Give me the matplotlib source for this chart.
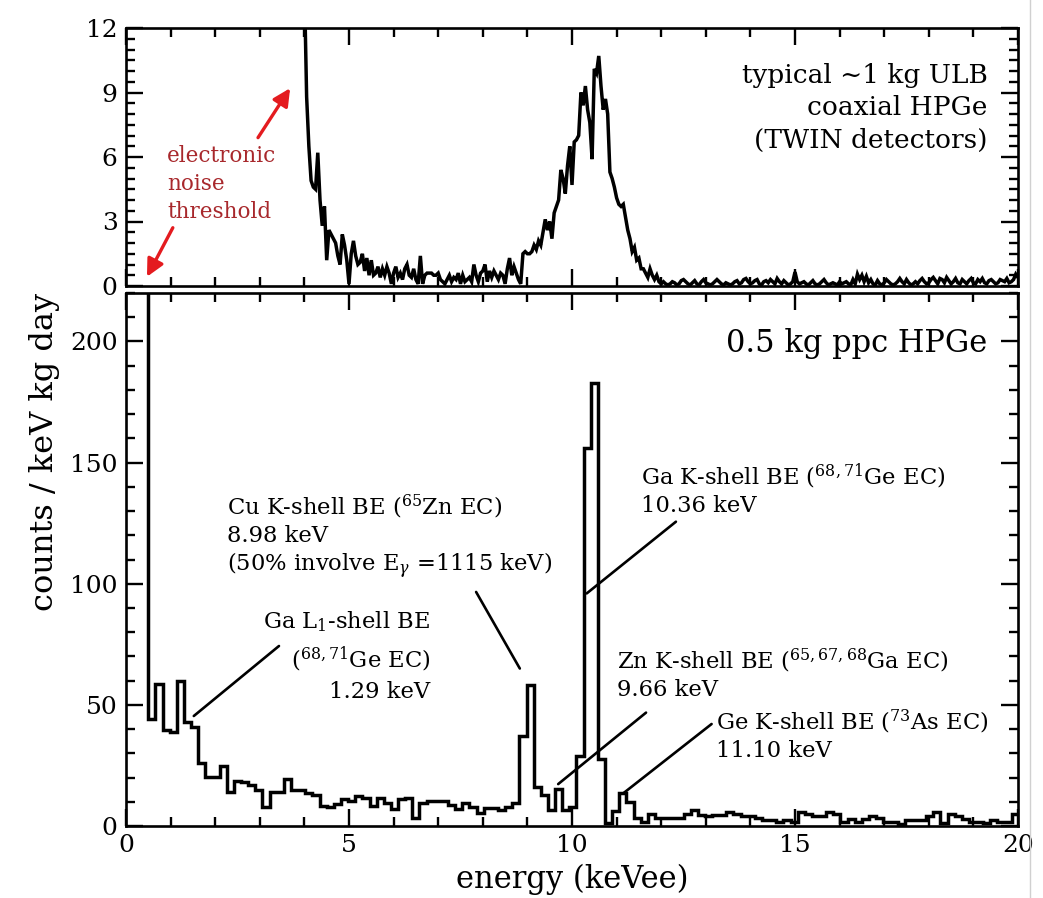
import numpy as np
import matplotlib
matplotlib.use("Agg")
import matplotlib.pyplot as plt
from matplotlib.lines import Line2D

plt.rcParams['font.family'] = 'DejaVu Serif'
plt.rcParams['mathtext.fontset'] = 'dejavuserif'

# --- coaxial HPGe spectrum (top), 0.05 keV steps from 4.0 keV ---
coax_start = 4.0
coax_step = 0.05
coax_counts = [
    14.0, 8.8, 6.5, 4.9, 4.6, 4.5, 6.2, 4.0, 2.8, 3.7, 1.2, 2.6, 2.4, 2.2, 2.0, 1.4, 1.0, 2.4, 1.9, 1.2,
    0.1, 1.5, 2.1, 1.4, 1.0, 1.1, 1.5, 0.7, 1.3, 0.5, 1.2, 0.5, 0.6, 0.9, 0.4, 0.8, 0.5, 0.9, 0.6, 0.1,
    0.6, 0.9, 0.4, 0.6, 0.3, 0.8, 1.0, 0.5, 0.4, 0.8, 0.3, 0.1, 1.4, 0.1, 0.5, 0.6, 0.6, 0.6, 0.5, 0.5,
    0.6, 0.3, 0.2, 0.1, 0.3, 0.5, 0.2, 0.4, 0.3, 0.6, 0.1, 0.5, 0.2, 0.3, 0.4, 0.2, 1.0, 0.5, 0.2, 0.6,
    0.7, 1.0, 0.2, 0.7, 0.4, 0.7, 0.5, 0.3, 0.6, 0.5, 0.1, 0.8, 1.3, 0.5, 0.9, 0.6, 0.3, 0.1, 1.5, 1.6,
    1.5, 1.5, 1.6, 1.9, 1.7, 2.1, 1.9, 2.5, 3.1, 2.6, 3.0, 2.2, 3.4, 3.7, 4.0, 5.4, 5.0, 4.3, 5.6, 6.5,
    4.7, 6.7, 6.8, 7.0, 9.0, 8.4, 9.3, 8.2, 7.6, 5.9, 10.1, 9.9, 10.7, 9.3, 8.2, 8.7, 8.0, 5.3, 5.0, 4.6,
    4.1, 3.8, 3.7, 3.8, 3.2, 2.6, 2.2, 1.6, 1.8, 1.2, 1.3, 0.8, 0.8, 0.6, 0.4, 0.8, 0.5, 0.3, 0.5, 0.2,
    0.1, 0.2, 0.1, 0.05, 0.1, 0.2, 0.15, 0.05, 0.1, 0.25, 0.3, 0.2, 0.1, 0.05, 0.15, 0.25, 0.1, 0.05, 0.2, 0.3,
    0.15, 0.1, 0.05, 0.1, 0.2, 0.3, 0.2, 0.1, 0.05, 0.15, 0.1, 0.05, 0.1, 0.2, 0.25, 0.1, 0.15, 0.3, 0.35, 0.2,
    0.1, 0.15, 0.25, 0.3, 0.1, 0.05, 0.2, 0.25, 0.15, 0.3, 0.2, 0.1, 0.35, 0.2, 0.1, 0.25, 0.15, 0.05, 0.1, 0.2,
    0.65, 0.2, 0.1, 0.15, 0.2, 0.1, 0.05, 0.15, 0.25, 0.1, 0.05, 0.1, 0.2, 0.3, 0.15, 0.05, 0.1, 0.15, 0.1, 0.05,
    0.2, 0.1, 0.15, 0.2, 0.1, 0.05, 0.3, 0.1, 0.55, 0.3, 0.5, 0.2, 0.45, 0.15, 0.3, 0.1, 0.05, 0.25, 0.1, 0.05,
    0.15, 0.3, 0.2, 0.1, 0.05, 0.1, 0.2, 0.35, 0.2, 0.1, 0.3, 0.15, 0.05, 0.1, 0.2, 0.1, 0.25, 0.35, 0.2, 0.1,
    0.15, 0.3, 0.4, 0.25, 0.1, 0.35, 0.3, 0.15, 0.4, 0.25, 0.1, 0.2, 0.35, 0.15, 0.1, 0.3, 0.2, 0.1, 0.25, 0.35,
    0.15, 0.1, 0.3, 0.2, 0.35, 0.15, 0.1, 0.25, 0.3, 0.2, 0.1, 0.15, 0.3, 0.25, 0.2, 0.35, 0.15, 0.2, 0.3, 0.55,
    0.4,
]

# --- ppc HPGe spectrum (bottom), 0.16 keV bins from 0.5 keV ---
ppc_spike = 400.0          # threshold bin just below 0.5 keV, off scale
ppc_start = 0.5
ppc_width = 0.16
ppc_counts = [
    44.3, 58.7, 39.5, 39.0, 59.8, 42.9, 41.0, 25.8, 20.3, 20.3,
    24.6, 14.1, 18.6, 18.1, 17.0, 15.0, 7.9, 14.1, 14.1, 19.6,
    15.0, 15.0, 13.8, 12.8, 8.2, 7.9, 9.0, 11.0, 10.5, 12.5,
    11.5, 8.2, 11.5, 9.4, 6.9, 11.0, 11.4, 3.3, 9.5, 10.5,
    10.5, 10.5, 8.5, 7.0, 9.5, 8.0, 5.5, 7.5, 7.5, 6.5,
    8.0, 9.5, 37.0, 58.0, 16.0, 12.8, 6.6, 15.3, 6.6, 8.0,
    29.0, 156.0, 183.0, 27.5, 1.2, 6.0, 13.5, 10.0, 3.3, 1.5,
    4.9, 3.5, 3.2, 3.2, 3.2, 4.9, 6.6, 4.5, 4.1, 4.5,
    4.5, 5.9, 5.0, 4.1, 4.1, 3.2, 2.4, 2.4, 1.8, 2.4,
    1.8, 5.9, 5.0, 4.1, 4.1, 5.9, 5.0, 1.8, 2.8, 1.8,
    2.8, 4.1, 3.2, 1.8, 1.5, 0.8, 2.4, 2.4, 2.4, 4.1,
    5.9, 1.4, 5.0, 4.1, 2.8, 1.8, 1.5, 1.4, 2.4, 1.8,
    1.8, 5.0,
]

coax_e = coax_start + coax_step * np.arange(len(coax_counts))
ppc_edges = np.concatenate([[ppc_start - 0.05],
                            ppc_start + ppc_width * np.arange(len(ppc_counts) + 1)])
ppc_vals = np.array([ppc_spike] + ppc_counts)

W, H = 1043, 898
fig = plt.figure(figsize=(W / 100, H / 100), dpi=100)
ax1 = fig.add_axes([126 / W, 1 - 286 / H, 892 / W, 258 / H])
ax2 = fig.add_axes([126 / W, 1 - 826 / H, 892 / W, 533 / H])

for ax in (ax1, ax2):
    for s in ax.spines.values():
        s.set_linewidth(1.9)
    ax.set_xlim(0, 20)
    ax.set_xticks([0, 5, 10, 15, 20])
    ax.set_xticks(np.arange(0, 21, 1), minor=True)
    ax.tick_params(which='both', direction='in', top=True, right=True,
                   labelsize=18, width=1.7)
    ax.tick_params(which='major', length=12, pad=6)
    ax.tick_params(which='minor', length=6.5)

# top panel
ax1.plot(coax_e, coax_counts, color='black', lw=2.5, solid_joinstyle='miter')
ax1.set_ylim(0, 12)
ax1.set_yticks([0, 3, 6, 9, 12])
ax1.set_yticks(np.arange(0, 12.01, 0.5), minor=True)
ax1.tick_params(labelbottom=False)

ax1.text(0.966, 0.69, "typical \u223c1 kg ULB\ncoaxial HPGe\n(TWIN detectors)",
         transform=ax1.transAxes, ha='right', va='center', fontsize=19,
         linespacing=1.38)

ax1.text(0.92, 6.55, "electronic\nnoise\nthreshold", color='#a8282c',
         fontsize=15.5, ha='left', va='top', linespacing=1.35)
red = '#e41b1f'
ax1.annotate('', xy=(3.68, 9.2), xytext=(2.96, 6.9),
             arrowprops=dict(arrowstyle='-|>', color=red, lw=2.4,
                             mutation_scale=26, shrinkA=0, shrinkB=0))
ax1.annotate('', xy=(0.47, 0.43), xytext=(1.05, 2.71),
             arrowprops=dict(arrowstyle='-|>', color=red, lw=2.4,
                             mutation_scale=26, shrinkA=0, shrinkB=0))

# bottom panel
ax2.stairs(ppc_vals, ppc_edges, baseline=None, color='black', lw=2.5)
ax2.set_ylim(0, 220)
ax2.set_yticks([0, 50, 100, 150, 200])
ax2.set_yticks(np.arange(0, 221, 10), minor=True)
ax2.set_xlabel("energy (keVee)", fontsize=22, labelpad=5)

ax2.text(0.966, 0.906, "0.5 kg ppc HPGe", transform=ax2.transAxes,
         ha='right', va='center', fontsize=22)

fs = 16.3
lead = dict(arrowstyle='-', color='black', lw=1.9, shrinkA=0, shrinkB=0)

ax2.text(2.27, 137.5, "Cu K-shell BE ($^{65}$Zn EC)\n8.98 keV\n"
         "(50% involve E$_\\gamma$ =1115 keV)",
         fontsize=fs, ha='left', va='top', linespacing=1.22)
ax2.annotate('', xy=(8.83, 65), xytext=(7.85, 96.6), arrowprops=lead)

ax2.text(11.55, 150.5, "Ga K-shell BE ($^{68,71}$Ge EC)\n10.36 keV",
         fontsize=fs, ha='left', va='top', linespacing=1.22)
ax2.annotate('', xy=(10.33, 96), xytext=(12.33, 125.6), arrowprops=lead)

ax2.text(6.82, 89.5, "Ga L$_1$-shell BE\n($^{68,71}$Ge EC)\n1.29 keV",
         fontsize=fs, ha='right', va='top', linespacing=1.45)
ax2.annotate('', xy=(1.52, 45.4), xytext=(3.43, 74.3), arrowprops=lead)

ax2.text(11.0, 73.8, "Zn K-shell BE ($^{65,67,68}$Ga EC)\n9.66 keV",
         fontsize=fs, ha='left', va='top', linespacing=1.22)
ax2.annotate('', xy=(9.69, 17.3), xytext=(11.66, 46.8), arrowprops=lead)

ax2.text(13.22, 48.6, "Ge K-shell BE ($^{73}$As EC)\n11.10 keV",
         fontsize=fs, ha='left', va='top', linespacing=1.22)
ax2.annotate('', xy=(11.15, 13.5), xytext=(13.13, 42.1), arrowprops=lead)

fig.text(45 / W, 1 - 452 / H, "counts / keV kg day", rotation=90,
         ha='center', va='center', fontsize=23)

fig.add_artist(Line2D([1030 / W, 1030 / W], [0, 1], color='#d0d0d0', lw=1.0))

fig.savefig("out.png", dpi=100)
